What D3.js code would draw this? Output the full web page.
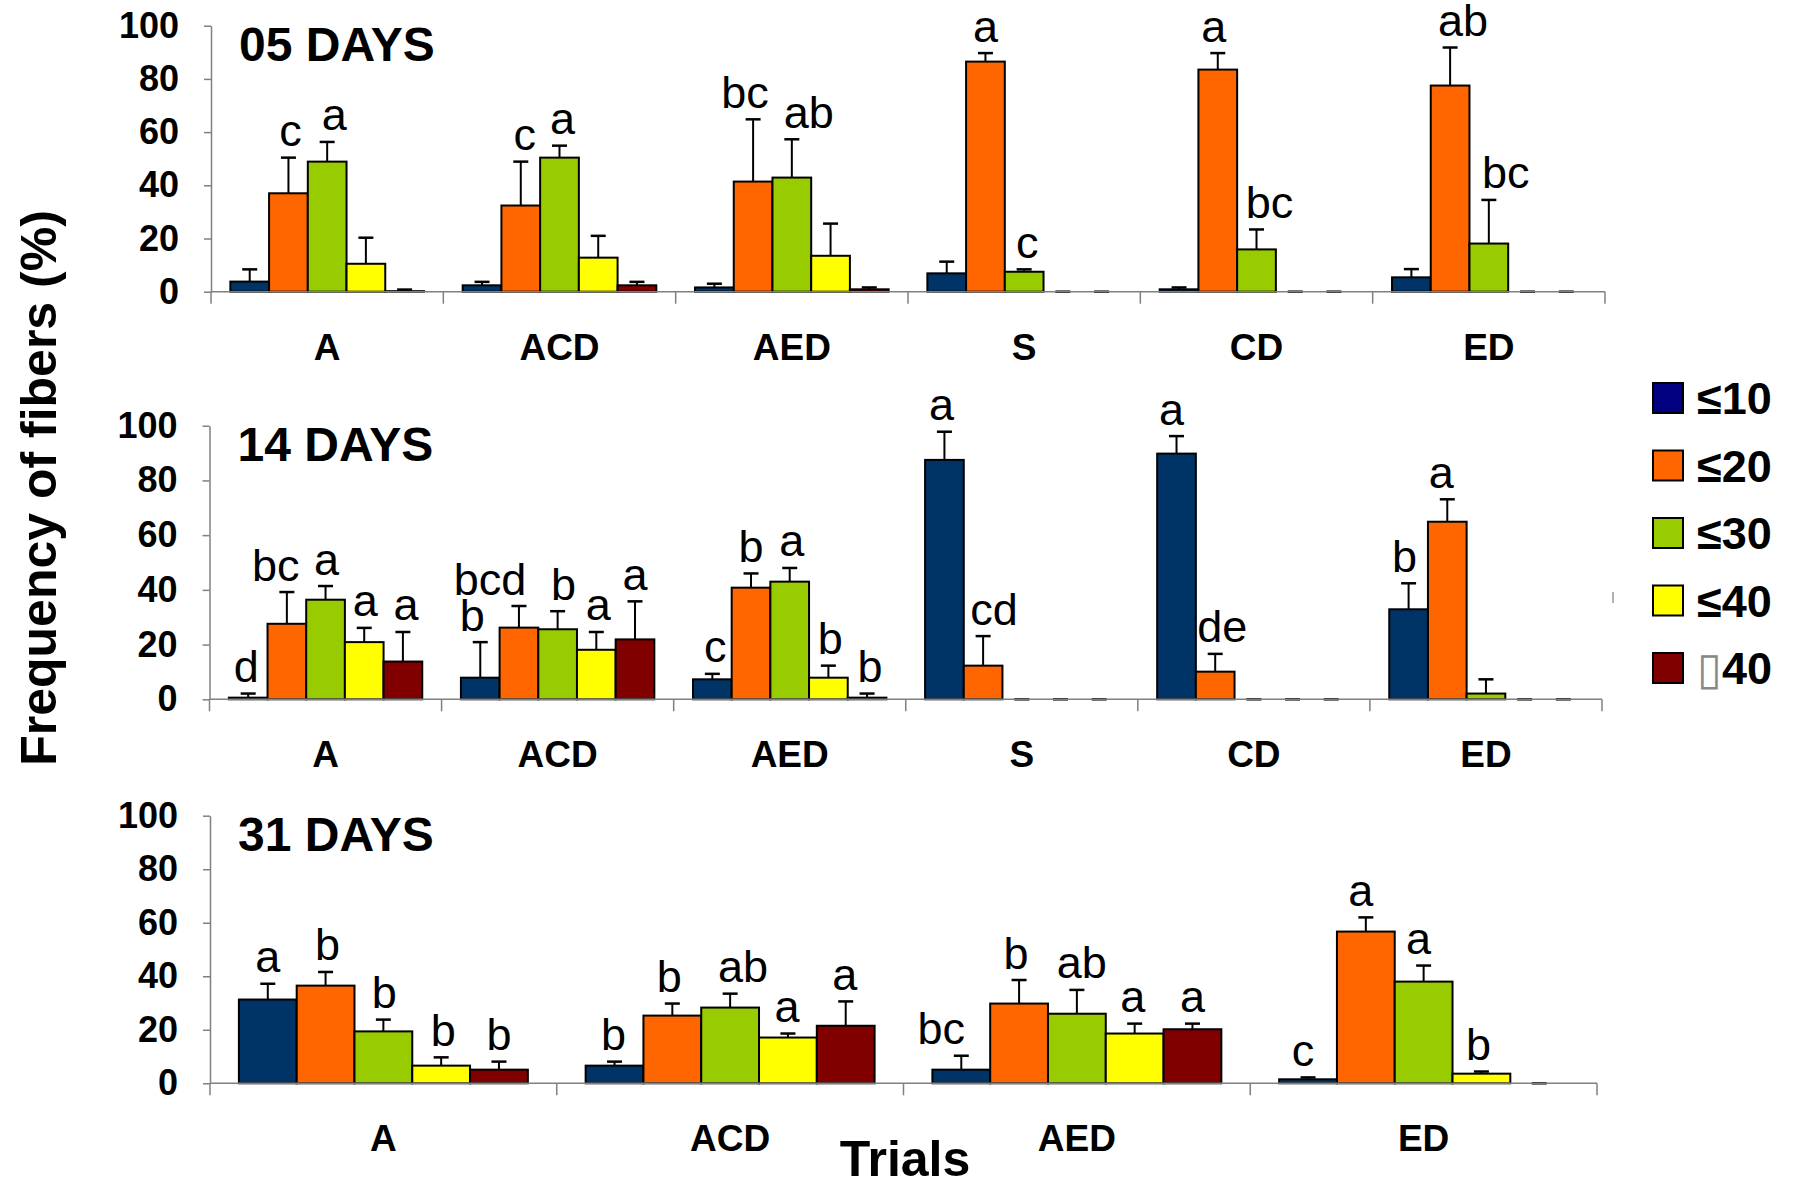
<!DOCTYPE html>
<html>
<head>
<meta charset="utf-8">
<script src="https://cdn.jsdelivr.net/npm/d3@7"></script>
<style>
  body { margin: 0; background: #fff; }
  text { font-family: "Liberation Sans", Arial, sans-serif; }
</style>
</head>
<body>
<div id="chart"></div>
<script>
// fiber size classes (legend order)
const sizeClasses = ["≤10", "≤20", "≤30", "≤40", "▯40"];
const yTicks = [0, 20, 40, 60, 80, 100];

// 05 days
const days05Trials = ["A", "ACD", "AED", "S", "CD", "ED"];
const days05Means = [
  [3.8, 37.0, 48.9, 10.5, 0.2],
  [2.4, 32.4, 50.4, 12.8, 2.4],
  [1.6, 41.4, 42.9, 13.5, 0.9],
  [6.9, 86.5, 7.5, 0, 0],
  [0.9, 83.5, 15.9, 0, 0],
  [5.4, 77.5, 18.1, 0, 0],
];
const days05Errors = [
  [4.6, 13.4, 7.4, 9.8, 0.6],
  [1.3, 16.5, 4.5, 8.2, 1.3],
  [1.4, 23.4, 14.4, 12.1, 0.7],
  [4.4, 3.2, 0.9, 0, 0],
  [0.7, 6.2, 7.5, 0, 0],
  [3.1, 14.3, 16.4, 0, 0],
];
const days05Letters = [
  ["", "c", "a", "", ""],
  ["", "c", "a", "", ""],
  ["", "bc", "ab", "", ""],
  ["", "a", "c", "", ""],
  ["", "a", "bc", "", ""],
  ["", "ab", "bc", "", ""],
];

// 14 days
const days14Trials = ["A", "ACD", "AED", "S", "CD", "ED"];
const days14Means = [
  [0.6, 27.6, 36.4, 20.9, 13.8],
  [7.9, 26.2, 25.6, 18.1, 21.9],
  [7.3, 40.8, 43.0, 7.9, 0.6],
  [87.5, 12.3, 0, 0, 0],
  [89.8, 10.1, 0, 0, 0],
  [32.9, 64.9, 2.1, 0, 0],
];
const days14Errors = [
  [1.5, 11.6, 5.0, 5.2, 10.8],
  [13.0, 7.9, 6.6, 6.5, 13.9],
  [2.0, 5.2, 5.0, 4.4, 1.5],
  [10.3, 10.8, 0, 0, 0],
  [6.4, 6.5, 0, 0, 0],
  [9.5, 8.2, 5.2, 0, 0],
];
const days14Letters = [
  ["d", "bc", "a", "a", "a"],
  ["b", "bcd", "b", "a", "a"],
  ["c", "b", "a", "b", "b"],
  ["a", "cd", "", "", ""],
  ["a", "de", "", "", ""],
  ["b", "a", "", "", ""],
];

// 31 days
const days31Trials = ["A", "ACD", "AED", "ED"];
const days31Means = [
  [31.3, 36.5, 19.4, 6.6, 5.1],
  [6.6, 25.3, 28.3, 17.1, 21.5],
  [5.1, 29.8, 26.0, 18.6, 20.2],
  [1.5, 56.7, 38.0, 3.6, 0],
];
const days31Errors = [
  [5.9, 5.1, 4.4, 3.1, 3.0],
  [1.5, 4.5, 5.2, 1.5, 9.1],
  [5.2, 8.8, 8.9, 3.7, 2.1],
  [0.7, 5.3, 6.0, 0.8, 0],
];
const days31Letters = [
  ["a", "b", "b", "b", "b"],
  ["b", "b", "ab", "a", "a"],
  ["bc", "b", "ab", "a", "a"],
  ["c", "a", "a", "b", ""],
];

// styling / layout (kept apart from the values)
const barColors = ["#003366", "#FF6600", "#99CC00", "#FFFF00", "#800000"];
const legendColors = ["#000080", "#FF6600", "#99CC00", "#FFFF00", "#800000"];
const axisColor = "#808080";

// small horizontal nudges of the letters, as placed in the original figure
const nudges05 = [[0, 2, 7, 0, 0], [0, 4, 3, 0, 0], [0, -8, 17, 0, 0], [0, 0, 3, 0, 0], [0, -4, 13, 0, 0], [0, 13, 17, 0, 0]];
const nudges14 = [[-2, -11, 1, 1, 3], [-8, -29, 6, 2, 0], [3, 0, 2, 2, 3], [-3, 11, 0, 0, 0], [-5, 7, 0, 0, 0], [-4, -6, 0, 0, 0]];
const nudges31 = [[0, 2, 1, 2, 0], [-1, -3, 13, -1, -1], [-20, -3, 5, -2, 0], [-5, -5, -5, -3, 0]];

const panels = [
  { title: "05 DAYS", trials: days05Trials, means: days05Means, errors: days05Errors, letters: days05Letters, nudges: nudges05,
    left: 211, right: 1605, bottom: 291.7, top: 25.7 },
  { title: "14 DAYS", trials: days14Trials, means: days14Means, errors: days14Errors, letters: days14Letters, nudges: nudges14,
    left: 209.5, right: 1602, bottom: 699.3, top: 425.7 },
  { title: "31 DAYS", trials: days31Trials, means: days31Means, errors: days31Errors, letters: days31Letters, nudges: nudges31,
    left: 210, right: 1597, bottom: 1083.3, top: 815.7 },
];

const svg = d3.select("#chart")
  .append("svg")
  .attr("width", 1797)
  .attr("height", 1181);

function drawPanel(p) {
  const g = svg.append("g");

  // trial groups along x, size classes inside each group
  const xGroup = d3.scaleBand()
    .domain(p.trials)
    .range([p.left, p.right]);
  const xBar = d3.scaleBand()
    .domain(sizeClasses)
    .range([0, xGroup.bandwidth()])
    .paddingOuter(0.5); // gap between groups = one bar width
  const y = d3.scaleLinear().domain([0, 100]).range([p.bottom, p.top]);

  // y axis
  const yAxis = g.append("g")
    .attr("transform", `translate(${p.left},0)`)
    .call(d3.axisLeft(y).tickValues(yTicks).tickSize(7).tickSizeOuter(0).tickPadding(25));
  yAxis.select(".domain").attr("stroke", axisColor).attr("stroke-width", 1.5);
  yAxis.selectAll(".tick line").attr("stroke", axisColor).attr("stroke-width", 1.5);
  yAxis.selectAll(".tick text")
    .style("font-family", '"Liberation Sans", Arial, sans-serif')
    .style("font-size", "36px")
    .style("font-weight", "bold")
    .attr("fill", "#000");

  // flatten to one record per bar
  const rows = [];
  p.trials.forEach((t, i) => {
    sizeClasses.forEach((s, j) => {
      rows.push({ trial: t, size: s, j: j, mean: p.means[i][j], err: p.errors[i][j],
        letter: p.letters[i][j], nudge: p.nudges[i][j] });
    });
  });
  const cx = (d) => xGroup(d.trial) + xBar(d.size) + xBar.bandwidth() / 2;

  // error bars (upper only), caps drawn even at zero
  g.selectAll(".err")
    .data(rows)
    .enter()
    .append("line")
    .attr("x1", cx).attr("x2", cx)
    .attr("y1", (d) => y(d.mean))
    .attr("y2", (d) => y(d.mean + d.err))
    .attr("stroke", "#000")
    .attr("stroke-width", 2);
  g.selectAll(".cap")
    .data(rows)
    .enter()
    .append("line")
    .attr("x1", (d) => cx(d) - 7.5).attr("x2", (d) => cx(d) + 7.5)
    .attr("y1", (d) => y(d.mean + d.err))
    .attr("y2", (d) => y(d.mean + d.err))
    .attr("stroke", "#000")
    .attr("stroke-width", 2.5);

  // bars
  g.selectAll(".bar")
    .data(rows.filter((d) => d.mean > 0))
    .enter()
    .append("rect")
    .attr("x", (d) => xGroup(d.trial) + xBar(d.size))
    .attr("y", (d) => y(d.mean))
    .attr("width", xBar.bandwidth())
    .attr("height", (d) => y(0) - y(d.mean))
    .attr("fill", (d) => barColors[d.j])
    .attr("stroke", "#000")
    .attr("stroke-width", 2);

  // x axis line and group separator ticks
  g.append("line")
    .attr("x1", p.left).attr("x2", p.right)
    .attr("y1", y(0)).attr("y2", y(0))
    .attr("stroke", axisColor)
    .attr("stroke-width", 1.5);
  const bounds = p.trials.map((t) => xGroup(t)).concat([p.right]);
  g.selectAll(".sep")
    .data(bounds)
    .enter()
    .append("line")
    .attr("x1", (d) => d).attr("x2", (d) => d)
    .attr("y1", y(0)).attr("y2", y(0) + 12)
    .attr("stroke", axisColor)
    .attr("stroke-width", 1.5);

  // trial names
  g.selectAll(".trial")
    .data(p.trials)
    .enter()
    .append("text")
    .attr("x", (d) => xGroup(d) + xGroup.bandwidth() / 2)
    .attr("y", y(0) + 68)
    .attr("text-anchor", "middle")
    .style("font-size", "37px")
    .style("font-weight", "bold")
    .text((d) => d);

  // significance letters
  g.selectAll(".letter")
    .data(rows.filter((d) => d.letter !== ""))
    .enter()
    .append("text")
    .attr("x", (d) => cx(d) + d.nudge)
    .attr("y", (d) => y(d.mean + d.err) - 11.5)
    .attr("text-anchor", "middle")
    .style("font-size", "45px")
    .text((d) => d.letter);

  // panel title
  g.append("text")
    .attr("x", p.left + 28)
    .attr("y", p.top + 35)
    .style("font-size", "48px")
    .style("font-weight", "bold")
    .text(p.title);
}

panels.forEach(drawPanel);

// y axis title
svg.append("text")
  .attr("transform", "translate(56,488) rotate(-90)")
  .attr("text-anchor", "middle")
  .style("font-size", "50px")
  .style("font-weight", "bold")
  .text("Frequency of fibers (%)");

// x axis title
svg.append("text")
  .attr("x", 905)
  .attr("y", 1176)
  .attr("text-anchor", "middle")
  .style("font-size", "50px")
  .style("font-weight", "bold")
  .text("Trials");

// legend
const legendY = d3.scalePoint().domain(sizeClasses).range([383, 653]);
const legend = svg.append("g");
legend.selectAll("rect")
  .data(sizeClasses)
  .enter()
  .append("rect")
  .attr("x", 1653)
  .attr("y", (d) => legendY(d))
  .attr("width", 30)
  .attr("height", 30)
  .attr("fill", (d, i) => legendColors[i])
  .attr("stroke", "#000")
  .attr("stroke-width", 2);
legend.selectAll("text")
  .data(sizeClasses)
  .enter()
  .append("text")
  .attr("x", 1697)
  .attr("y", (d) => legendY(d) + 31)
  .style("font-size", "45px")
  .style("font-weight", "bold")
  .each(function (d) {
    const t = d3.select(this);
    if (d.startsWith("▯")) {
      t.append("tspan").attr("fill", "#888").style("font-weight", "normal").text("▯");
      t.append("tspan").text(d.slice(1));
    } else {
      t.text(d);
    }
  });

// stray mark left of the legend in the original
svg.append("line")
  .attr("x1", 1613).attr("x2", 1613)
  .attr("y1", 592).attr("y2", 603)
  .attr("stroke", "#999")
  .attr("stroke-width", 1.5);
</script>
</body>
</html>
